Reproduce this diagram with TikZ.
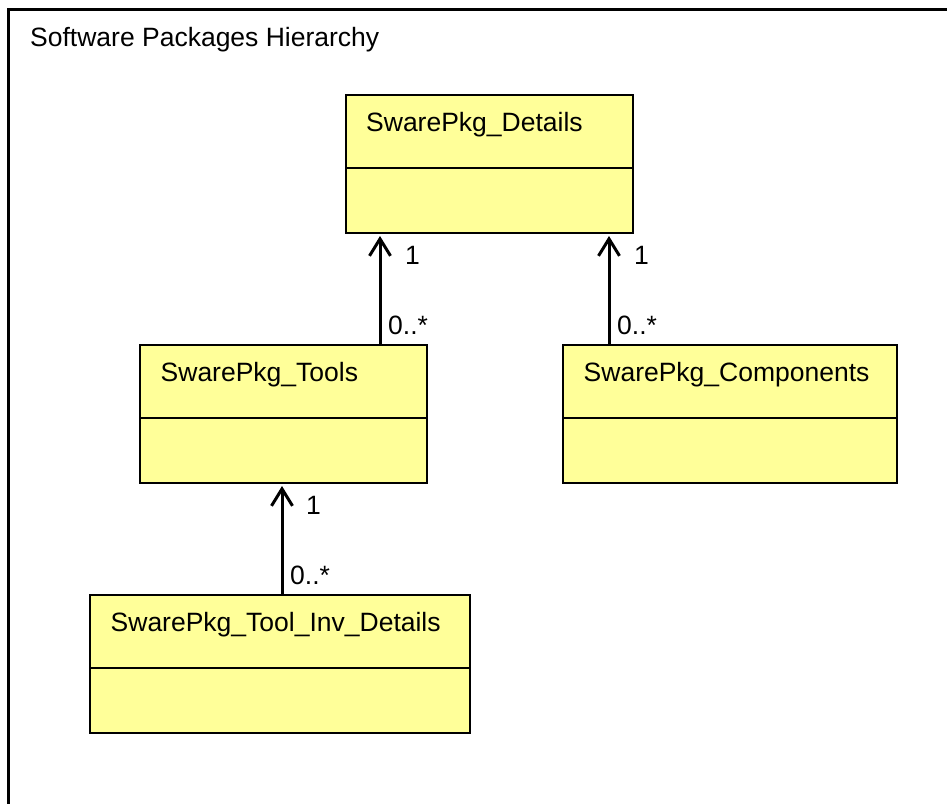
\documentclass[tikz,border=0pt]{standalone}
\usepackage{fontspec}
\setmainfont{Liberation Sans}
\usetikzlibrary{arrows.meta,calc}
\definecolor{umlfill}{RGB}{255,255,153}
\tikzset{
  classbox/.style={draw=black, line width=2pt, fill=umlfill, anchor=north west, minimum height=138pt, inner sep=0pt, outer sep=0pt},
  classname/.style={anchor=base west, inner sep=0pt, font=\fontsize{26.5}{30}\selectfont},
  mult/.style={anchor=base west, inner sep=0pt, font=\fontsize{26.5}{30}\selectfont},
  assoc/.style={line width=3pt, -{Straight Barb[length=17pt,width=21pt,line width=3pt]}, shorten >=3pt},
  divider/.style={line width=2pt}
}
\begin{document}
\begin{tikzpicture}[x=1pt,y=-1pt]
\useasboundingbox (0,0) rectangle (947,803);
\clip (0,0) rectangle (947,803);
\draw[line width=3pt] (8,9.5) rectangle (980,840);
\node[classname] (title) at (30,46) {Software Packages Hierarchy};

\node[classbox, minimum width=287pt] (det) at (345.5,95) {};
\node[classbox, minimum width=287pt] (tools) at (140,345) {};
\node[classbox, minimum width=334pt] (comp) at (563,345) {};
\node[classbox, minimum width=380pt] (inv) at (90,595) {};

\foreach \b in {det,tools,comp,inv}{
  \draw[divider] ($(\b.north west)+(0,72.5)$) -- ($(\b.north east)+(0,72.5)$);
}

\node[classname] (detname) at ($(det.north west)+(20.5,36)$) {SwarePkg\_Details};
\node[classname] (toolsname) at ($(tools.north west)+(20.5,36)$) {SwarePkg\_Tools};
\node[classname] (compname) at ($(comp.north west)+(20.5,36)$) {SwarePkg\_Components};
\node[classname] (invname) at ($(inv.north west)+(20.5,36)$) {SwarePkg\_Tool\_Inv\_Details};

\draw[assoc] (380,0 |- tools.north) -- (380,0 |- det.south);
\draw[assoc] (609,0 |- comp.north) -- (609,0 |- det.south);
\draw[assoc] (282,0 |- inv.north) -- (282,0 |- tools.south);

\node[mult] (m1) at (405,264) {1};
\node[mult] (m2) at (388,334) {0..*};
\node[mult] (m3) at (634,264) {1};
\node[mult] (m4) at (617,334) {0..*};
\node[mult] (m5) at (306,514) {1};
\node[mult] (m6) at (290,584) {0..*};
\end{tikzpicture}
\end{document}
